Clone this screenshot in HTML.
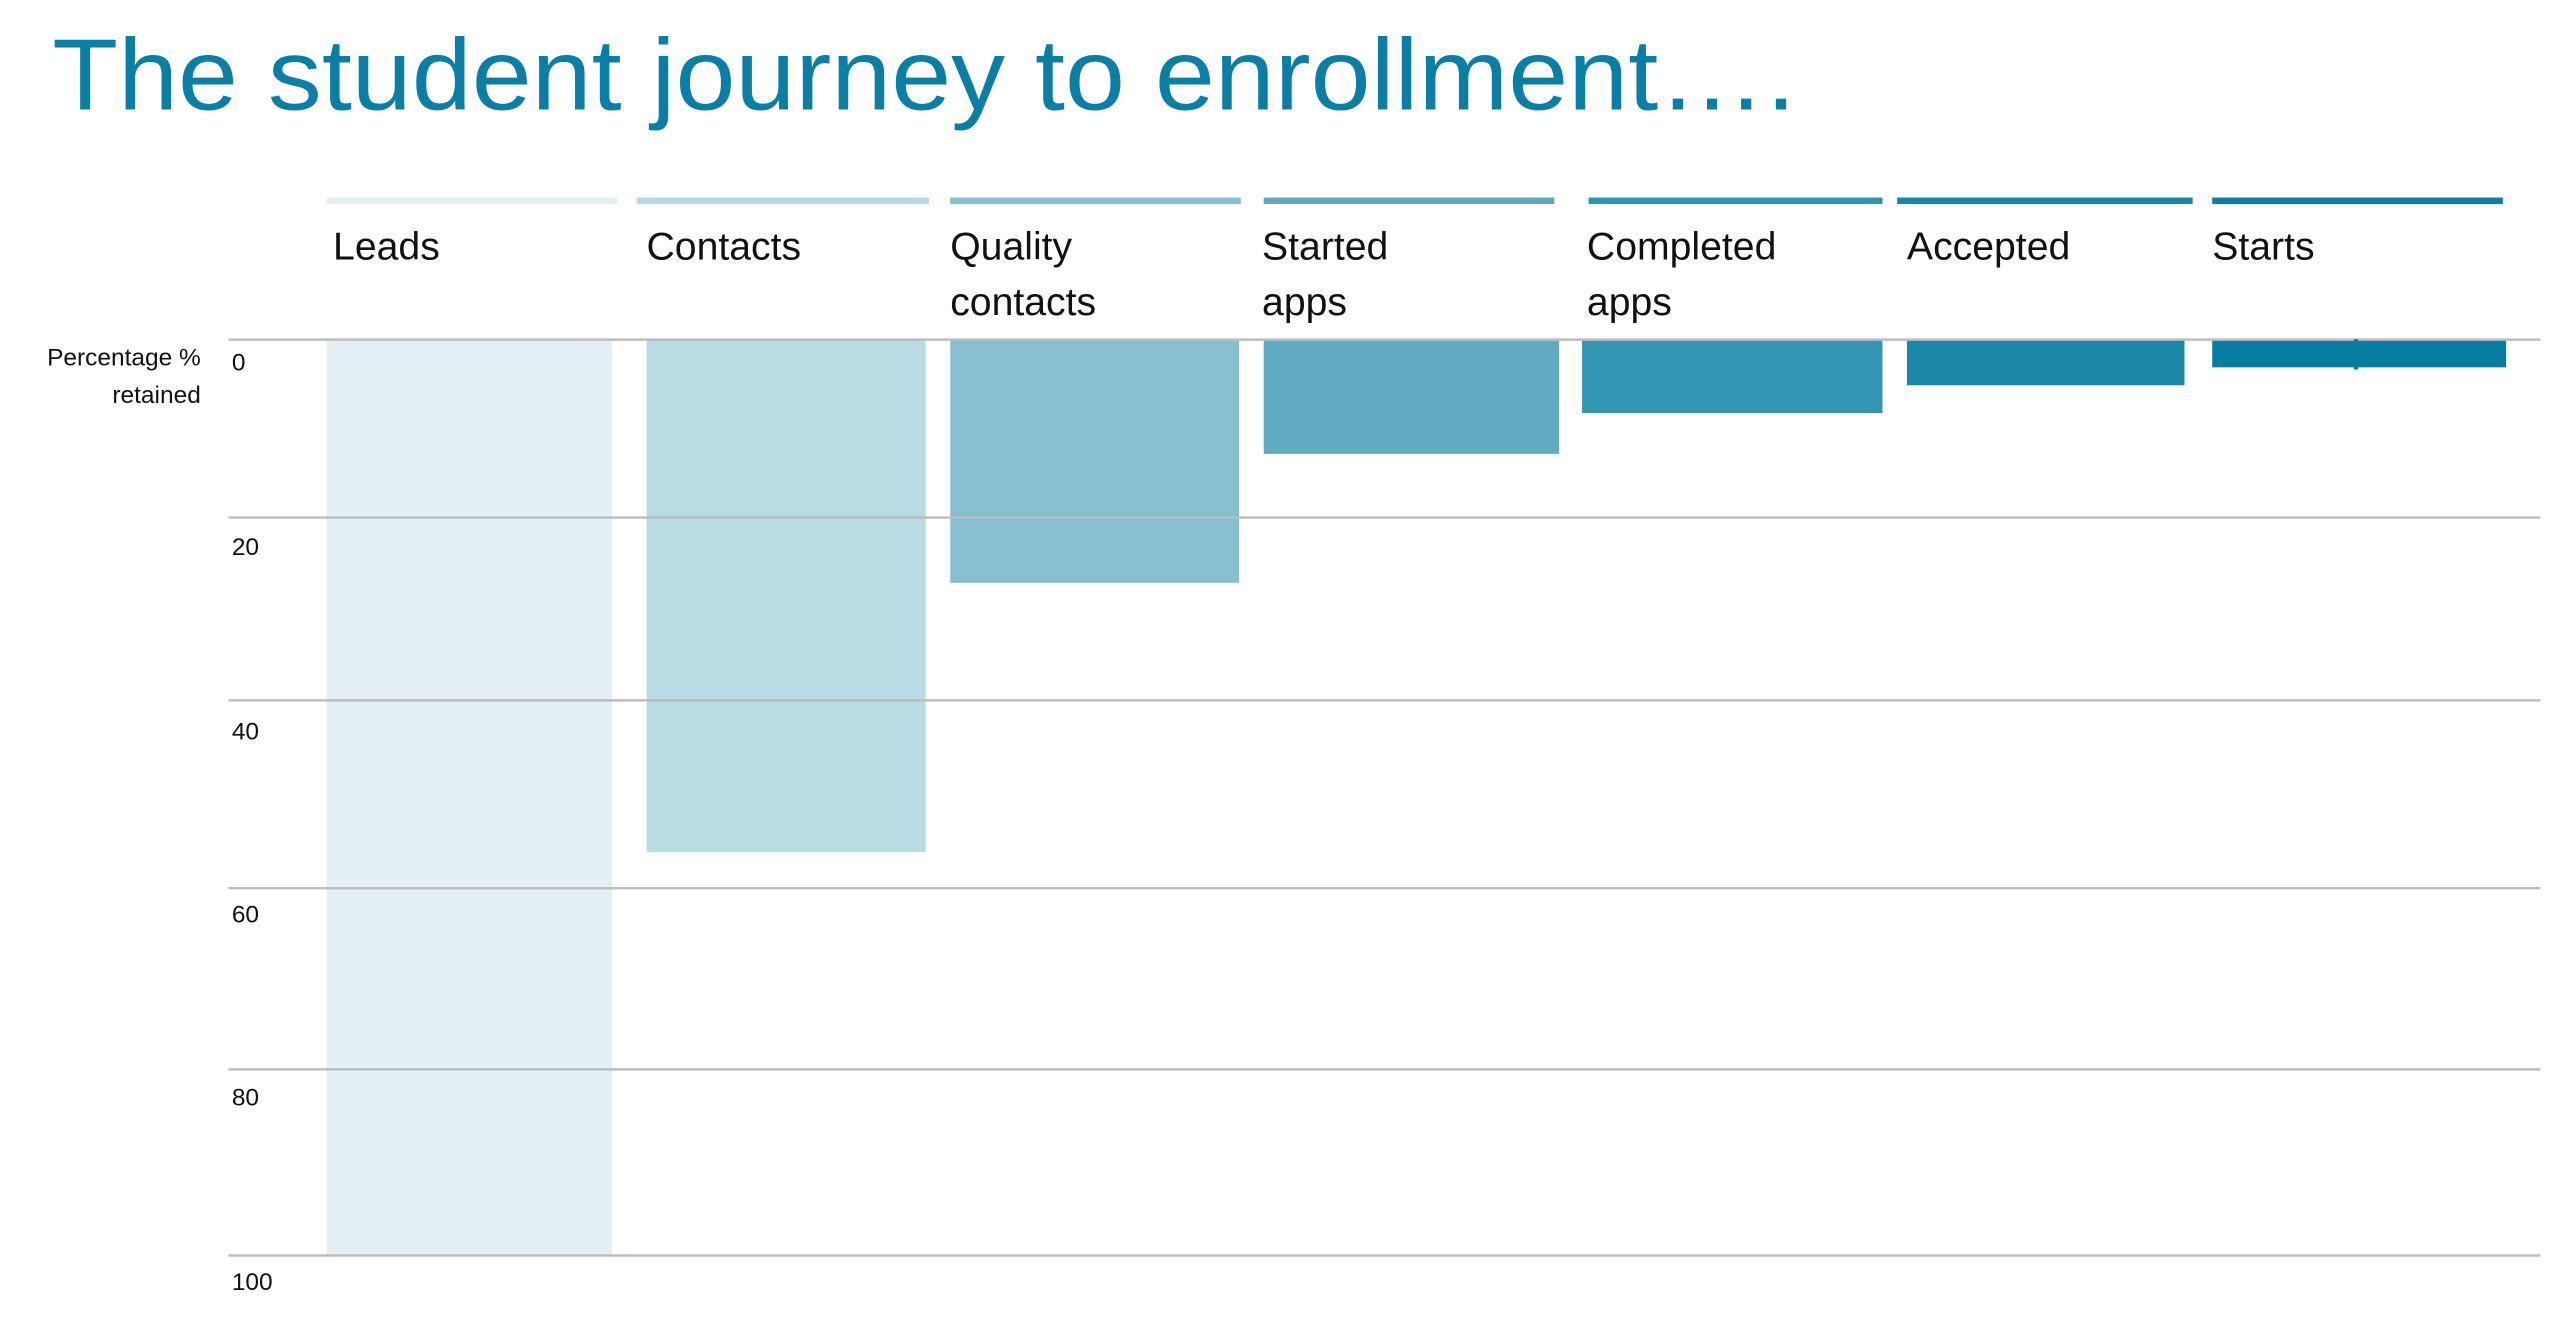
<!DOCTYPE html>
<html><head><meta charset="utf-8"><style>
html,body{margin:0;padding:0;background:#fff;}
svg{display:block;}
</style></head><body>
<svg width="2560" height="1320" viewBox="0 0 1568 808.5" xmlns="http://www.w3.org/2000/svg" font-family="Liberation Sans, sans-serif">
<text x="32" y="67" font-size="62" fill="#0a7ea4" textLength="1068" lengthAdjust="spacingAndGlyphs">The student journey to enrollment….</text>
<g>
<rect x="200" y="121" width="178" height="4" fill="#e2f0f4"/>
<rect x="390" y="121" width="179" height="4" fill="#b6dae3"/>
<rect x="582" y="121" width="178" height="4" fill="#86bfcf"/>
<rect x="774" y="121" width="178" height="4" fill="#5eaac1"/>
<rect x="973" y="121" width="180" height="4" fill="#2f94b1"/>
<rect x="1162" y="121" width="181" height="4" fill="#1887a8"/>
<rect x="1355" y="121" width="178" height="4" fill="#0a7fa2"/>
</g>
<g font-size="24" fill="#111" font-weight="300">
<text x="204" y="159">Leads</text>
<text x="396" y="159">Contacts</text>
<text x="582" y="159">Quality</text><text x="582" y="193">contacts</text>
<text x="773" y="159">Started</text><text x="773" y="193">apps</text>
<text x="972" y="159">Completed</text><text x="972" y="193">apps</text>
<text x="1168" y="159">Accepted</text>
<text x="1355" y="159">Starts</text>
</g>
<rect x="200" y="208" width="175" height="561" fill="#e4f0f5"/>
<rect x="396" y="208" width="171" height="314" fill="#b9dbe3"/>
<rect x="582" y="208" width="177" height="149" fill="#88bfcf"/>
<rect x="774" y="208" width="181" height="70" fill="#62abc2"/>
<rect x="969" y="208" width="184" height="45" fill="#3496b2"/>
<rect x="1168" y="208" width="170" height="28" fill="#1b88a8"/>
<rect x="1355" y="208" width="180" height="17" fill="#077ea1"/>
<g stroke="#bdbdbd" stroke-width="1.5">
<line x1="140" x2="1556" y1="208" y2="208"/>
<line x1="140" x2="1556" y1="317" y2="317"/>
<line x1="140" x2="1556" y1="429" y2="429"/>
<line x1="140" x2="1556" y1="544" y2="544"/>
<line x1="140" x2="1556" y1="655" y2="655"/>
<line x1="140" x2="1556" y1="769" y2="769"/>
</g>
<path d="M1443 209 L1443 225" stroke="#077ea1" stroke-width="3" stroke-linecap="round"/>
<g font-size="15" fill="#111">
<text x="142" y="227">0</text>
<text x="142" y="340">20</text>
<text x="142" y="453">40</text>
<text x="142" y="565">60</text>
<text x="142" y="677">80</text>
<text x="142" y="790">100</text>
</g>
<g font-size="15" fill="#111" text-anchor="end">
<text x="123" y="224">Percentage %</text>
<text x="123" y="247">retained</text>
</g>
</svg>
</body></html>
